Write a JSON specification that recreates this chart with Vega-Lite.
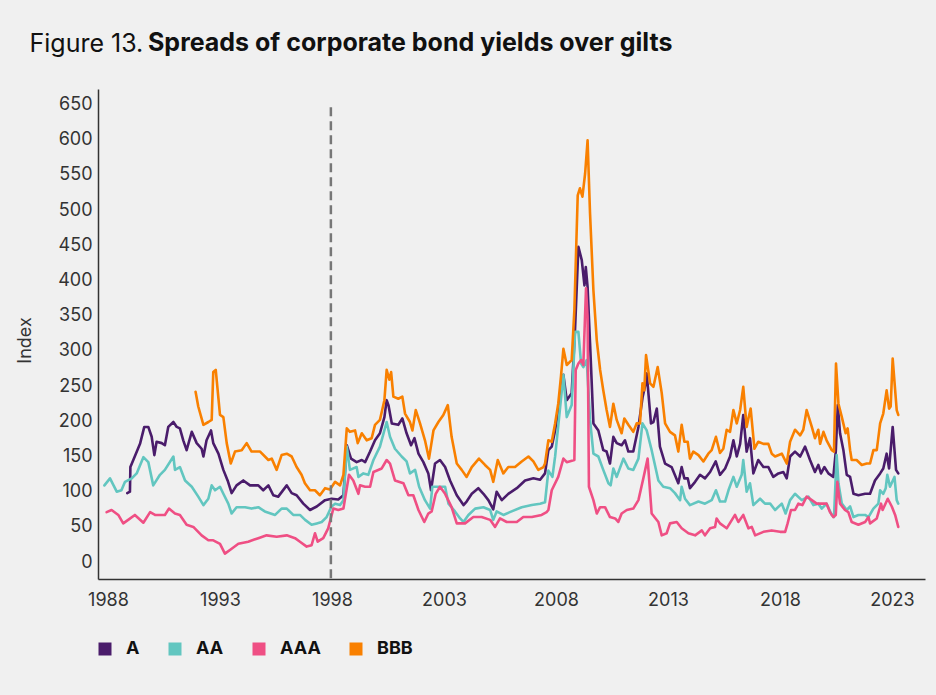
{
  "$schema": "https://vega.github.io/schema/vega-lite/v6.json",
  "width": 827,
  "height": 490,
  "autosize": {"type": "none"},
  "padding": {"left": 98, "top": 89, "right": 11, "bottom": 116},
  "background": "#f0f0f0",
  "config": {"view": {"stroke": null}, "font": "Inter"},
  "title": {
    "text": "Spreads of corporate bond yields over gilts",
    "anchor": "start",
    "frame": "group",
    "font": "Inter",
    "fontSize": 25,
    "fontWeight": "bold",
    "color": "#111111",
    "dx": 50,
    "offset": -25
  },
  "datasets": {
    "series": [
      {"s":"A","t":1988.86,"v":98},{"s":"A","t":1988.98,"v":100},{"s":"A","t":1989.0,"v":135},{"s":"A","t":1989.13,"v":145},{"s":"A","t":1989.43,"v":168},{"s":"A","t":1989.62,"v":192},{"s":"A","t":1989.8,"v":192},{"s":"A","t":1989.95,"v":178},{"s":"A","t":1990.07,"v":152},{"s":"A","t":1990.17,"v":171},{"s":"A","t":1990.4,"v":169},{"s":"A","t":1990.54,"v":166},{"s":"A","t":1990.69,"v":192},{"s":"A","t":1990.92,"v":199},{"s":"A","t":1991.07,"v":192},{"s":"A","t":1991.21,"v":190},{"s":"A","t":1991.36,"v":173},{"s":"A","t":1991.51,"v":159},{"s":"A","t":1991.74,"v":185},{"s":"A","t":1991.96,"v":169},{"s":"A","t":1992.18,"v":161},{"s":"A","t":1992.26,"v":150},{"s":"A","t":1992.4,"v":173},{"s":"A","t":1992.6,"v":187},{"s":"A","t":1992.7,"v":169},{"s":"A","t":1992.93,"v":154},{"s":"A","t":1993.15,"v":131},{"s":"A","t":1993.34,"v":116},{"s":"A","t":1993.52,"v":98},{"s":"A","t":1993.74,"v":109},{"s":"A","t":1994.04,"v":116},{"s":"A","t":1994.34,"v":109},{"s":"A","t":1994.71,"v":109},{"s":"A","t":1994.93,"v":102},{"s":"A","t":1995.16,"v":109},{"s":"A","t":1995.38,"v":95},{"s":"A","t":1995.6,"v":93},{"s":"A","t":1995.98,"v":109},{"s":"A","t":1996.2,"v":98},{"s":"A","t":1996.42,"v":95},{"s":"A","t":1996.72,"v":83},{"s":"A","t":1997.02,"v":74},{"s":"A","t":1997.32,"v":79},{"s":"A","t":1997.69,"v":88},{"s":"A","t":1997.98,"v":90},{"s":"A","t":1998.28,"v":89},{"s":"A","t":1998.51,"v":95},{"s":"A","t":1998.66,"v":166},{"s":"A","t":1998.85,"v":147},{"s":"A","t":1999.1,"v":142},{"s":"A","t":1999.33,"v":145},{"s":"A","t":1999.48,"v":142},{"s":"A","t":1999.7,"v":157},{"s":"A","t":1999.92,"v":173},{"s":"A","t":2000.14,"v":183},{"s":"A","t":2000.34,"v":206},{"s":"A","t":2000.44,"v":230},{"s":"A","t":2000.52,"v":223},{"s":"A","t":2000.67,"v":197},{"s":"A","t":2000.96,"v":195},{"s":"A","t":2001.14,"v":204},{"s":"A","t":2001.33,"v":183},{"s":"A","t":2001.53,"v":166},{"s":"A","t":2001.68,"v":176},{"s":"A","t":2001.86,"v":154},{"s":"A","t":2002.08,"v":142},{"s":"A","t":2002.3,"v":126},{"s":"A","t":2002.42,"v":102},{"s":"A","t":2002.6,"v":140},{"s":"A","t":2002.82,"v":145},{"s":"A","t":2003.05,"v":135},{"s":"A","t":2003.27,"v":116},{"s":"A","t":2003.57,"v":95},{"s":"A","t":2003.87,"v":81},{"s":"A","t":2004.01,"v":86},{"s":"A","t":2004.24,"v":97},{"s":"A","t":2004.53,"v":105},{"s":"A","t":2004.76,"v":97},{"s":"A","t":2004.98,"v":88},{"s":"A","t":2005.2,"v":75},{"s":"A","t":2005.35,"v":100},{"s":"A","t":2005.58,"v":88},{"s":"A","t":2005.87,"v":97},{"s":"A","t":2006.25,"v":105},{"s":"A","t":2006.62,"v":116},{"s":"A","t":2006.99,"v":119},{"s":"A","t":2007.29,"v":117},{"s":"A","t":2007.51,"v":126},{"s":"A","t":2007.66,"v":159},{"s":"A","t":2007.81,"v":164},{"s":"A","t":2007.96,"v":187},{"s":"A","t":2008.1,"v":216},{"s":"A","t":2008.33,"v":266},{"s":"A","t":2008.48,"v":230},{"s":"A","t":2008.7,"v":240},{"s":"A","t":2008.85,"v":330},{"s":"A","t":2009.0,"v":448},{"s":"A","t":2009.15,"v":429},{"s":"A","t":2009.27,"v":393},{"s":"A","t":2009.33,"v":419},{"s":"A","t":2009.41,"v":391},{"s":"A","t":2009.52,"v":311},{"s":"A","t":2009.67,"v":197},{"s":"A","t":2009.89,"v":187},{"s":"A","t":2010.11,"v":159},{"s":"A","t":2010.26,"v":157},{"s":"A","t":2010.41,"v":140},{"s":"A","t":2010.56,"v":178},{"s":"A","t":2010.71,"v":169},{"s":"A","t":2010.93,"v":166},{"s":"A","t":2011.08,"v":173},{"s":"A","t":2011.23,"v":157},{"s":"A","t":2011.45,"v":157},{"s":"A","t":2011.68,"v":192},{"s":"A","t":2011.87,"v":235},{"s":"A","t":2011.97,"v":249},{"s":"A","t":2012.05,"v":268},{"s":"A","t":2012.24,"v":197},{"s":"A","t":2012.35,"v":199},{"s":"A","t":2012.5,"v":218},{"s":"A","t":2012.64,"v":164},{"s":"A","t":2012.87,"v":140},{"s":"A","t":2013.16,"v":135},{"s":"A","t":2013.46,"v":112},{"s":"A","t":2013.61,"v":135},{"s":"A","t":2013.73,"v":119},{"s":"A","t":2013.88,"v":119},{"s":"A","t":2013.98,"v":105},{"s":"A","t":2014.21,"v":114},{"s":"A","t":2014.43,"v":124},{"s":"A","t":2014.65,"v":119},{"s":"A","t":2014.88,"v":128},{"s":"A","t":2015.13,"v":143},{"s":"A","t":2015.32,"v":124},{"s":"A","t":2015.55,"v":133},{"s":"A","t":2015.77,"v":150},{"s":"A","t":2015.92,"v":173},{"s":"A","t":2016.07,"v":150},{"s":"A","t":2016.22,"v":168},{"s":"A","t":2016.36,"v":209},{"s":"A","t":2016.51,"v":157},{"s":"A","t":2016.66,"v":176},{"s":"A","t":2016.81,"v":126},{"s":"A","t":2017.03,"v":145},{"s":"A","t":2017.26,"v":135},{"s":"A","t":2017.48,"v":135},{"s":"A","t":2017.7,"v":121},{"s":"A","t":2017.93,"v":126},{"s":"A","t":2018.15,"v":128},{"s":"A","t":2018.3,"v":119},{"s":"A","t":2018.45,"v":150},{"s":"A","t":2018.67,"v":157},{"s":"A","t":2018.9,"v":150},{"s":"A","t":2019.12,"v":164},{"s":"A","t":2019.34,"v":145},{"s":"A","t":2019.56,"v":128},{"s":"A","t":2019.71,"v":138},{"s":"A","t":2019.83,"v":126},{"s":"A","t":2019.98,"v":135},{"s":"A","t":2020.16,"v":126},{"s":"A","t":2020.38,"v":121},{"s":"A","t":2020.49,"v":157},{"s":"A","t":2020.58,"v":223},{"s":"A","t":2020.68,"v":183},{"s":"A","t":2020.83,"v":159},{"s":"A","t":2020.98,"v":124},{"s":"A","t":2021.13,"v":121},{"s":"A","t":2021.28,"v":97},{"s":"A","t":2021.5,"v":95},{"s":"A","t":2021.8,"v":97},{"s":"A","t":2022.02,"v":97},{"s":"A","t":2022.24,"v":116},{"s":"A","t":2022.47,"v":126},{"s":"A","t":2022.61,"v":133},{"s":"A","t":2022.76,"v":154},{"s":"A","t":2022.87,"v":133},{"s":"A","t":2023.03,"v":192},{"s":"A","t":2023.18,"v":131},{"s":"A","t":2023.28,"v":126},
      {"s":"AA","t":1987.84,"v":109},{"s":"AA","t":1988.09,"v":119},{"s":"AA","t":1988.39,"v":100},{"s":"AA","t":1988.6,"v":102},{"s":"AA","t":1988.76,"v":114},{"s":"AA","t":1989.06,"v":119},{"s":"AA","t":1989.28,"v":126},{"s":"AA","t":1989.58,"v":149},{"s":"AA","t":1989.8,"v":142},{"s":"AA","t":1990.02,"v":109},{"s":"AA","t":1990.32,"v":124},{"s":"AA","t":1990.54,"v":131},{"s":"AA","t":1990.92,"v":150},{"s":"AA","t":1990.99,"v":131},{"s":"AA","t":1991.21,"v":135},{"s":"AA","t":1991.44,"v":116},{"s":"AA","t":1991.74,"v":107},{"s":"AA","t":1992.03,"v":93},{"s":"AA","t":1992.26,"v":81},{"s":"AA","t":1992.48,"v":90},{"s":"AA","t":1992.63,"v":109},{"s":"AA","t":1992.78,"v":102},{"s":"AA","t":1993.0,"v":107},{"s":"AA","t":1993.15,"v":97},{"s":"AA","t":1993.37,"v":83},{"s":"AA","t":1993.52,"v":69},{"s":"AA","t":1993.74,"v":78},{"s":"AA","t":1994.12,"v":78},{"s":"AA","t":1994.41,"v":76},{"s":"AA","t":1994.71,"v":78},{"s":"AA","t":1995.0,"v":72},{"s":"AA","t":1995.46,"v":67},{"s":"AA","t":1995.75,"v":76},{"s":"AA","t":1995.98,"v":76},{"s":"AA","t":1996.27,"v":67},{"s":"AA","t":1996.57,"v":67},{"s":"AA","t":1996.8,"v":60},{"s":"AA","t":1997.09,"v":53},{"s":"AA","t":1997.32,"v":55},{"s":"AA","t":1997.54,"v":57},{"s":"AA","t":1997.76,"v":64},{"s":"AA","t":1997.98,"v":79},{"s":"AA","t":1998.14,"v":83},{"s":"AA","t":1998.36,"v":81},{"s":"AA","t":1998.51,"v":88},{"s":"AA","t":1998.66,"v":164},{"s":"AA","t":1998.8,"v":131},{"s":"AA","t":1999.1,"v":135},{"s":"AA","t":1999.18,"v":121},{"s":"AA","t":1999.4,"v":126},{"s":"AA","t":1999.62,"v":124},{"s":"AA","t":1999.85,"v":145},{"s":"AA","t":2000.14,"v":164},{"s":"AA","t":2000.44,"v":199},{"s":"AA","t":2000.59,"v":178},{"s":"AA","t":2000.81,"v":161},{"s":"AA","t":2001.11,"v":150},{"s":"AA","t":2001.33,"v":143},{"s":"AA","t":2001.48,"v":126},{"s":"AA","t":2001.71,"v":131},{"s":"AA","t":2001.89,"v":107},{"s":"AA","t":2002.15,"v":88},{"s":"AA","t":2002.38,"v":76},{"s":"AA","t":2002.48,"v":107},{"s":"AA","t":2002.75,"v":107},{"s":"AA","t":2003.05,"v":107},{"s":"AA","t":2003.2,"v":83},{"s":"AA","t":2003.49,"v":72},{"s":"AA","t":2003.72,"v":62},{"s":"AA","t":2003.87,"v":57},{"s":"AA","t":2004.09,"v":67},{"s":"AA","t":2004.39,"v":76},{"s":"AA","t":2004.76,"v":78},{"s":"AA","t":2005.06,"v":74},{"s":"AA","t":2005.2,"v":60},{"s":"AA","t":2005.35,"v":72},{"s":"AA","t":2005.65,"v":67},{"s":"AA","t":2006.02,"v":72},{"s":"AA","t":2006.47,"v":78},{"s":"AA","t":2006.92,"v":81},{"s":"AA","t":2007.29,"v":83},{"s":"AA","t":2007.51,"v":85},{"s":"AA","t":2007.66,"v":130},{"s":"AA","t":2007.84,"v":121},{"s":"AA","t":2007.96,"v":150},{"s":"AA","t":2008.14,"v":206},{"s":"AA","t":2008.33,"v":266},{"s":"AA","t":2008.48,"v":206},{"s":"AA","t":2008.7,"v":223},{"s":"AA","t":2008.85,"v":327},{"s":"AA","t":2009.0,"v":327},{"s":"AA","t":2009.12,"v":282},{"s":"AA","t":2009.22,"v":277},{"s":"AA","t":2009.37,"v":287},{"s":"AA","t":2009.52,"v":202},{"s":"AA","t":2009.67,"v":154},{"s":"AA","t":2009.89,"v":150},{"s":"AA","t":2010.11,"v":131},{"s":"AA","t":2010.34,"v":112},{"s":"AA","t":2010.44,"v":109},{"s":"AA","t":2010.56,"v":133},{"s":"AA","t":2010.71,"v":121},{"s":"AA","t":2011.01,"v":147},{"s":"AA","t":2011.23,"v":133},{"s":"AA","t":2011.45,"v":131},{"s":"AA","t":2011.68,"v":147},{"s":"AA","t":2011.86,"v":197},{"s":"AA","t":2012.05,"v":187},{"s":"AA","t":2012.27,"v":159},{"s":"AA","t":2012.57,"v":116},{"s":"AA","t":2012.79,"v":107},{"s":"AA","t":2013.09,"v":105},{"s":"AA","t":2013.31,"v":98},{"s":"AA","t":2013.54,"v":88},{"s":"AA","t":2013.61,"v":107},{"s":"AA","t":2013.76,"v":90},{"s":"AA","t":2013.98,"v":81},{"s":"AA","t":2014.36,"v":86},{"s":"AA","t":2014.65,"v":83},{"s":"AA","t":2014.95,"v":88},{"s":"AA","t":2015.14,"v":102},{"s":"AA","t":2015.32,"v":86},{"s":"AA","t":2015.55,"v":86},{"s":"AA","t":2015.7,"v":102},{"s":"AA","t":2015.92,"v":121},{"s":"AA","t":2016.07,"v":107},{"s":"AA","t":2016.29,"v":124},{"s":"AA","t":2016.36,"v":145},{"s":"AA","t":2016.51,"v":100},{"s":"AA","t":2016.66,"v":112},{"s":"AA","t":2016.81,"v":81},{"s":"AA","t":2017.11,"v":90},{"s":"AA","t":2017.33,"v":83},{"s":"AA","t":2017.56,"v":83},{"s":"AA","t":2017.78,"v":74},{"s":"AA","t":2018.08,"v":83},{"s":"AA","t":2018.25,"v":69},{"s":"AA","t":2018.45,"v":88},{"s":"AA","t":2018.67,"v":97},{"s":"AA","t":2018.97,"v":88},{"s":"AA","t":2019.27,"v":93},{"s":"AA","t":2019.49,"v":81},{"s":"AA","t":2019.71,"v":83},{"s":"AA","t":2019.86,"v":76},{"s":"AA","t":2020.08,"v":83},{"s":"AA","t":2020.31,"v":67},{"s":"AA","t":2020.41,"v":64},{"s":"AA","t":2020.53,"v":152},{"s":"AA","t":2020.61,"v":112},{"s":"AA","t":2020.76,"v":83},{"s":"AA","t":2020.98,"v":74},{"s":"AA","t":2021.13,"v":79},{"s":"AA","t":2021.28,"v":64},{"s":"AA","t":2021.5,"v":67},{"s":"AA","t":2021.8,"v":67},{"s":"AA","t":2021.95,"v":64},{"s":"AA","t":2022.17,"v":76},{"s":"AA","t":2022.39,"v":83},{"s":"AA","t":2022.47,"v":102},{"s":"AA","t":2022.61,"v":97},{"s":"AA","t":2022.72,"v":105},{"s":"AA","t":2022.79,"v":124},{"s":"AA","t":2022.91,"v":107},{"s":"AA","t":2023.11,"v":121},{"s":"AA","t":2023.21,"v":88},{"s":"AA","t":2023.28,"v":83},
      {"s":"AAA","t":1987.94,"v":71},{"s":"AAA","t":1988.16,"v":74},{"s":"AAA","t":1988.46,"v":67},{"s":"AAA","t":1988.68,"v":55},{"s":"AAA","t":1988.9,"v":60},{"s":"AAA","t":1989.2,"v":67},{"s":"AAA","t":1989.58,"v":56},{"s":"AAA","t":1989.88,"v":71},{"s":"AAA","t":1990.1,"v":67},{"s":"AAA","t":1990.54,"v":67},{"s":"AAA","t":1990.72,"v":76},{"s":"AAA","t":1990.99,"v":69},{"s":"AAA","t":1991.21,"v":67},{"s":"AAA","t":1991.51,"v":53},{"s":"AAA","t":1991.81,"v":50},{"s":"AAA","t":1992.18,"v":38},{"s":"AAA","t":1992.48,"v":31},{"s":"AAA","t":1992.7,"v":31},{"s":"AAA","t":1993.0,"v":26},{"s":"AAA","t":1993.22,"v":12},{"s":"AAA","t":1993.52,"v":19},{"s":"AAA","t":1993.82,"v":26},{"s":"AAA","t":1994.26,"v":29},{"s":"AAA","t":1994.71,"v":34},{"s":"AAA","t":1995.08,"v":38},{"s":"AAA","t":1995.53,"v":36},{"s":"AAA","t":1995.98,"v":38},{"s":"AAA","t":1996.35,"v":34},{"s":"AAA","t":1996.57,"v":29},{"s":"AAA","t":1996.87,"v":22},{"s":"AAA","t":1997.09,"v":24},{"s":"AAA","t":1997.24,"v":41},{"s":"AAA","t":1997.36,"v":29},{"s":"AAA","t":1997.61,"v":34},{"s":"AAA","t":1997.83,"v":48},{"s":"AAA","t":1998.06,"v":76},{"s":"AAA","t":1998.28,"v":74},{"s":"AAA","t":1998.51,"v":76},{"s":"AAA","t":1998.76,"v":124},{"s":"AAA","t":1998.95,"v":116},{"s":"AAA","t":1999.18,"v":97},{"s":"AAA","t":1999.25,"v":109},{"s":"AAA","t":1999.48,"v":107},{"s":"AAA","t":1999.7,"v":107},{"s":"AAA","t":1999.85,"v":128},{"s":"AAA","t":2000.22,"v":133},{"s":"AAA","t":2000.44,"v":145},{"s":"AAA","t":2000.59,"v":140},{"s":"AAA","t":2000.81,"v":116},{"s":"AAA","t":2001.19,"v":112},{"s":"AAA","t":2001.41,"v":95},{"s":"AAA","t":2001.63,"v":95},{"s":"AAA","t":2001.86,"v":74},{"s":"AAA","t":2002.12,"v":57},{"s":"AAA","t":2002.3,"v":69},{"s":"AAA","t":2002.45,"v":72},{"s":"AAA","t":2002.63,"v":97},{"s":"AAA","t":2002.82,"v":107},{"s":"AAA","t":2003.05,"v":97},{"s":"AAA","t":2003.34,"v":78},{"s":"AAA","t":2003.57,"v":55},{"s":"AAA","t":2003.94,"v":55},{"s":"AAA","t":2004.31,"v":64},{"s":"AAA","t":2004.68,"v":64},{"s":"AAA","t":2005.06,"v":60},{"s":"AAA","t":2005.28,"v":50},{"s":"AAA","t":2005.5,"v":62},{"s":"AAA","t":2005.8,"v":57},{"s":"AAA","t":2006.25,"v":57},{"s":"AAA","t":2006.54,"v":64},{"s":"AAA","t":2006.92,"v":64},{"s":"AAA","t":2007.36,"v":67},{"s":"AAA","t":2007.58,"v":71},{"s":"AAA","t":2007.66,"v":74},{"s":"AAA","t":2007.81,"v":102},{"s":"AAA","t":2008.1,"v":121},{"s":"AAA","t":2008.33,"v":147},{"s":"AAA","t":2008.48,"v":142},{"s":"AAA","t":2008.82,"v":145},{"s":"AAA","t":2008.88,"v":273},{"s":"AAA","t":2009.0,"v":282},{"s":"AAA","t":2009.12,"v":287},{"s":"AAA","t":2009.22,"v":280},{"s":"AAA","t":2009.34,"v":389},{"s":"AAA","t":2009.41,"v":348},{"s":"AAA","t":2009.47,"v":107},{"s":"AAA","t":2009.67,"v":88},{"s":"AAA","t":2009.82,"v":69},{"s":"AAA","t":2009.97,"v":78},{"s":"AAA","t":2010.19,"v":78},{"s":"AAA","t":2010.41,"v":64},{"s":"AAA","t":2010.64,"v":62},{"s":"AAA","t":2010.78,"v":57},{"s":"AAA","t":2010.93,"v":69},{"s":"AAA","t":2011.16,"v":74},{"s":"AAA","t":2011.45,"v":76},{"s":"AAA","t":2011.68,"v":88},{"s":"AAA","t":2011.9,"v":119},{"s":"AAA","t":2012.09,"v":147},{"s":"AAA","t":2012.27,"v":69},{"s":"AAA","t":2012.57,"v":57},{"s":"AAA","t":2012.72,"v":38},{"s":"AAA","t":2012.94,"v":41},{"s":"AAA","t":2013.09,"v":55},{"s":"AAA","t":2013.39,"v":57},{"s":"AAA","t":2013.61,"v":48},{"s":"AAA","t":2013.91,"v":41},{"s":"AAA","t":2014.21,"v":38},{"s":"AAA","t":2014.51,"v":45},{"s":"AAA","t":2014.65,"v":38},{"s":"AAA","t":2014.88,"v":48},{"s":"AAA","t":2015.1,"v":50},{"s":"AAA","t":2015.17,"v":62},{"s":"AAA","t":2015.32,"v":55},{"s":"AAA","t":2015.62,"v":48},{"s":"AAA","t":2015.99,"v":67},{"s":"AAA","t":2016.14,"v":57},{"s":"AAA","t":2016.36,"v":67},{"s":"AAA","t":2016.59,"v":48},{"s":"AAA","t":2016.74,"v":50},{"s":"AAA","t":2016.89,"v":38},{"s":"AAA","t":2017.26,"v":43},{"s":"AAA","t":2017.63,"v":45},{"s":"AAA","t":2018.0,"v":43},{"s":"AAA","t":2018.23,"v":43},{"s":"AAA","t":2018.34,"v":55},{"s":"AAA","t":2018.49,"v":74},{"s":"AAA","t":2018.67,"v":74},{"s":"AAA","t":2018.82,"v":83},{"s":"AAA","t":2019.0,"v":81},{"s":"AAA","t":2019.19,"v":93},{"s":"AAA","t":2019.42,"v":88},{"s":"AAA","t":2019.64,"v":83},{"s":"AAA","t":2019.86,"v":83},{"s":"AAA","t":2020.08,"v":83},{"s":"AAA","t":2020.23,"v":71},{"s":"AAA","t":2020.38,"v":64},{"s":"AAA","t":2020.49,"v":67},{"s":"AAA","t":2020.56,"v":114},{"s":"AAA","t":2020.68,"v":83},{"s":"AAA","t":2020.9,"v":74},{"s":"AAA","t":2021.05,"v":71},{"s":"AAA","t":2021.2,"v":57},{"s":"AAA","t":2021.5,"v":53},{"s":"AAA","t":2021.8,"v":57},{"s":"AAA","t":2021.95,"v":64},{"s":"AAA","t":2022.02,"v":55},{"s":"AAA","t":2022.32,"v":62},{"s":"AAA","t":2022.51,"v":83},{"s":"AAA","t":2022.58,"v":74},{"s":"AAA","t":2022.81,"v":90},{"s":"AAA","t":2022.99,"v":79},{"s":"AAA","t":2023.14,"v":67},{"s":"AAA","t":2023.28,"v":50},
      {"s":"BBB","t":1991.91,"v":242},{"s":"BBB","t":1992.03,"v":221},{"s":"BBB","t":1992.26,"v":195},{"s":"BBB","t":1992.48,"v":199},{"s":"BBB","t":1992.63,"v":202},{"s":"BBB","t":1992.7,"v":270},{"s":"BBB","t":1992.81,"v":273},{"s":"BBB","t":1993.0,"v":209},{"s":"BBB","t":1993.15,"v":206},{"s":"BBB","t":1993.3,"v":169},{"s":"BBB","t":1993.48,"v":140},{"s":"BBB","t":1993.67,"v":157},{"s":"BBB","t":1993.97,"v":159},{"s":"BBB","t":1994.19,"v":169},{"s":"BBB","t":1994.41,"v":157},{"s":"BBB","t":1994.79,"v":157},{"s":"BBB","t":1995.16,"v":145},{"s":"BBB","t":1995.31,"v":147},{"s":"BBB","t":1995.53,"v":131},{"s":"BBB","t":1995.75,"v":152},{"s":"BBB","t":1995.98,"v":154},{"s":"BBB","t":1996.2,"v":150},{"s":"BBB","t":1996.42,"v":135},{"s":"BBB","t":1996.64,"v":124},{"s":"BBB","t":1996.79,"v":112},{"s":"BBB","t":1997.02,"v":102},{"s":"BBB","t":1997.24,"v":102},{"s":"BBB","t":1997.46,"v":95},{"s":"BBB","t":1997.69,"v":105},{"s":"BBB","t":1997.91,"v":103},{"s":"BBB","t":1998.14,"v":114},{"s":"BBB","t":1998.36,"v":109},{"s":"BBB","t":1998.51,"v":124},{"s":"BBB","t":1998.66,"v":190},{"s":"BBB","t":1998.8,"v":185},{"s":"BBB","t":1999.03,"v":187},{"s":"BBB","t":1999.15,"v":169},{"s":"BBB","t":1999.33,"v":183},{"s":"BBB","t":1999.55,"v":173},{"s":"BBB","t":1999.77,"v":176},{"s":"BBB","t":1999.92,"v":195},{"s":"BBB","t":2000.14,"v":202},{"s":"BBB","t":2000.34,"v":230},{"s":"BBB","t":2000.44,"v":273},{"s":"BBB","t":2000.56,"v":259},{"s":"BBB","t":2000.64,"v":270},{"s":"BBB","t":2000.74,"v":235},{"s":"BBB","t":2000.96,"v":232},{"s":"BBB","t":2001.14,"v":235},{"s":"BBB","t":2001.26,"v":211},{"s":"BBB","t":2001.48,"v":199},{"s":"BBB","t":2001.59,"v":187},{"s":"BBB","t":2001.74,"v":216},{"s":"BBB","t":2001.93,"v":197},{"s":"BBB","t":2002.15,"v":173},{"s":"BBB","t":2002.33,"v":147},{"s":"BBB","t":2002.53,"v":187},{"s":"BBB","t":2002.75,"v":199},{"s":"BBB","t":2002.97,"v":209},{"s":"BBB","t":2003.17,"v":223},{"s":"BBB","t":2003.34,"v":178},{"s":"BBB","t":2003.57,"v":140},{"s":"BBB","t":2003.79,"v":131},{"s":"BBB","t":2004.01,"v":121},{"s":"BBB","t":2004.24,"v":135},{"s":"BBB","t":2004.56,"v":147},{"s":"BBB","t":2004.83,"v":138},{"s":"BBB","t":2005.06,"v":131},{"s":"BBB","t":2005.2,"v":114},{"s":"BBB","t":2005.4,"v":145},{"s":"BBB","t":2005.65,"v":126},{"s":"BBB","t":2005.87,"v":135},{"s":"BBB","t":2006.17,"v":135},{"s":"BBB","t":2006.47,"v":143},{"s":"BBB","t":2006.77,"v":150},{"s":"BBB","t":2006.99,"v":143},{"s":"BBB","t":2007.21,"v":131},{"s":"BBB","t":2007.44,"v":135},{"s":"BBB","t":2007.51,"v":140},{"s":"BBB","t":2007.66,"v":173},{"s":"BBB","t":2007.81,"v":171},{"s":"BBB","t":2007.96,"v":197},{"s":"BBB","t":2008.1,"v":225},{"s":"BBB","t":2008.22,"v":263},{"s":"BBB","t":2008.33,"v":303},{"s":"BBB","t":2008.48,"v":280},{"s":"BBB","t":2008.7,"v":287},{"s":"BBB","t":2008.82,"v":358},{"s":"BBB","t":2008.97,"v":521},{"s":"BBB","t":2009.07,"v":531},{"s":"BBB","t":2009.18,"v":519},{"s":"BBB","t":2009.3,"v":552},{"s":"BBB","t":2009.41,"v":599},{"s":"BBB","t":2009.52,"v":495},{"s":"BBB","t":2009.67,"v":386},{"s":"BBB","t":2009.82,"v":315},{"s":"BBB","t":2009.97,"v":273},{"s":"BBB","t":2010.11,"v":244},{"s":"BBB","t":2010.26,"v":216},{"s":"BBB","t":2010.41,"v":192},{"s":"BBB","t":2010.56,"v":225},{"s":"BBB","t":2010.71,"v":202},{"s":"BBB","t":2010.93,"v":183},{"s":"BBB","t":2011.05,"v":204},{"s":"BBB","t":2011.23,"v":195},{"s":"BBB","t":2011.45,"v":185},{"s":"BBB","t":2011.6,"v":197},{"s":"BBB","t":2011.75,"v":197},{"s":"BBB","t":2011.86,"v":254},{"s":"BBB","t":2011.94,"v":244},{"s":"BBB","t":2012.02,"v":294},{"s":"BBB","t":2012.2,"v":254},{"s":"BBB","t":2012.35,"v":249},{"s":"BBB","t":2012.54,"v":277},{"s":"BBB","t":2012.72,"v":240},{"s":"BBB","t":2012.87,"v":197},{"s":"BBB","t":2013.09,"v":185},{"s":"BBB","t":2013.31,"v":180},{"s":"BBB","t":2013.46,"v":157},{"s":"BBB","t":2013.61,"v":195},{"s":"BBB","t":2013.73,"v":171},{"s":"BBB","t":2013.88,"v":171},{"s":"BBB","t":2013.98,"v":147},{"s":"BBB","t":2014.13,"v":157},{"s":"BBB","t":2014.36,"v":152},{"s":"BBB","t":2014.58,"v":143},{"s":"BBB","t":2014.8,"v":154},{"s":"BBB","t":2014.95,"v":159},{"s":"BBB","t":2015.14,"v":178},{"s":"BBB","t":2015.32,"v":155},{"s":"BBB","t":2015.47,"v":161},{"s":"BBB","t":2015.62,"v":188},{"s":"BBB","t":2015.77,"v":185},{"s":"BBB","t":2015.92,"v":216},{"s":"BBB","t":2016.07,"v":197},{"s":"BBB","t":2016.22,"v":216},{"s":"BBB","t":2016.36,"v":249},{"s":"BBB","t":2016.51,"v":192},{"s":"BBB","t":2016.59,"v":204},{"s":"BBB","t":2016.69,"v":218},{"s":"BBB","t":2016.86,"v":161},{"s":"BBB","t":2017.03,"v":171},{"s":"BBB","t":2017.26,"v":168},{"s":"BBB","t":2017.48,"v":168},{"s":"BBB","t":2017.63,"v":154},{"s":"BBB","t":2017.78,"v":150},{"s":"BBB","t":2018.08,"v":154},{"s":"BBB","t":2018.3,"v":140},{"s":"BBB","t":2018.45,"v":171},{"s":"BBB","t":2018.67,"v":188},{"s":"BBB","t":2018.9,"v":180},{"s":"BBB","t":2019.04,"v":188},{"s":"BBB","t":2019.19,"v":216},{"s":"BBB","t":2019.42,"v":192},{"s":"BBB","t":2019.56,"v":176},{"s":"BBB","t":2019.71,"v":188},{"s":"BBB","t":2019.79,"v":168},{"s":"BBB","t":2019.94,"v":185},{"s":"BBB","t":2020.08,"v":173},{"s":"BBB","t":2020.31,"v":159},{"s":"BBB","t":2020.41,"v":157},{"s":"BBB","t":2020.5,"v":282},{"s":"BBB","t":2020.61,"v":225},{"s":"BBB","t":2020.76,"v":206},{"s":"BBB","t":2020.93,"v":183},{"s":"BBB","t":2021.02,"v":190},{"s":"BBB","t":2021.13,"v":159},{"s":"BBB","t":2021.2,"v":145},{"s":"BBB","t":2021.42,"v":145},{"s":"BBB","t":2021.65,"v":138},{"s":"BBB","t":2021.87,"v":140},{"s":"BBB","t":2022.02,"v":140},{"s":"BBB","t":2022.17,"v":159},{"s":"BBB","t":2022.32,"v":159},{"s":"BBB","t":2022.47,"v":197},{"s":"BBB","t":2022.61,"v":211},{"s":"BBB","t":2022.76,"v":244},{"s":"BBB","t":2022.87,"v":218},{"s":"BBB","t":2022.94,"v":221},{"s":"BBB","t":2023.03,"v":289},{"s":"BBB","t":2023.21,"v":216},{"s":"BBB","t":2023.28,"v":209}
    ],
    "marker": [{"t": 1997.95}]
  },
  "layer": [
    {
      "data": {"name": "series"},
      "mark": {"type": "line", "strokeWidth": 2.6, "strokeJoin": "round", "strokeCap": "round"},
      "encoding": {
        "x": {
          "field": "t", "type": "quantitative",
          "scale": {"domain": [1987.554, 2024.473], "nice": false, "zero": false},
          "axis": {
            "title": "Figure 13.", "titleFont": "Inter", "titleFontSize": 25, "titleFontWeight": "normal", "titleColor": "#111111",
            "titleX": -69, "titleY": -528, "titleAlign": "left", "titleBaseline": "alphabetic", "titleAngle": 0,
            "values": [1988, 1993, 1998, 2003, 2008, 2013, 2018, 2023], "format": "d",
            "labelFont": "Inter", "labelFontSize": 18, "labelColor": "#333333", "labelPadding": 12, "labelOverlap": false,
            "ticks": false, "tickSize": 0, "grid": false,
            "domain": true, "domainColor": "#333333", "domainWidth": 1.5
          }
        },
        "y": {
          "field": "v", "type": "quantitative",
          "scale": {"domain": [-24, 672], "nice": false, "zero": false},
          "axis": {
            "title": "Index", "titleFont": "Inter", "titleFontSize": 18, "titleFontWeight": "normal", "titleColor": "#333333",
            "titleAngle": -90, "titleX": -73, "titleY": 251, "titleAlign": "center", "titleBaseline": "middle",
            "values": [0, 50, 100, 150, 200, 250, 300, 350, 400, 450, 500, 550, 600, 650],
            "labelFont": "Inter", "labelFontSize": 18, "labelColor": "#333333", "labelPadding": 6, "labelOverlap": false,
            "ticks": false, "tickSize": 0, "grid": false,
            "domain": true, "domainColor": "#333333", "domainWidth": 1.5
          }
        },
        "color": {
          "field": "s", "type": "nominal",
          "scale": {"domain": ["A", "AA", "AAA", "BBB"], "range": ["#4a1c6b", "#62c6c0", "#ef4f84", "#f98000"]},
          "legend": {
            "title": null, "orient": "none", "legendX": -2, "legendY": 551, "direction": "horizontal",
            "symbolType": "square", "symbolSize": 169, "symbolStrokeWidth": 0,
            "labelFont": "Inter", "labelFontSize": 18, "labelFontWeight": "bold", "labelColor": "#111111",
            "labelOffset": 12, "columnPadding": 26,
            "encode": {"symbols": {"update": {"fill": {"scale": "color", "field": "value"}, "stroke": {"value": "transparent"}, "opacity": {"value": 1}}}}
          }
        }
      }
    },
    {
      "data": {"name": "marker"},
      "mark": {"type": "rule", "color": "#777777", "strokeWidth": 2.5, "strokeDash": [9, 5]},
      "encoding": {
        "x": {
          "field": "t", "type": "quantitative",
          "axis": {
            "title": "Figure 13.", "titleFont": "Inter", "titleFontSize": 25, "titleFontWeight": "normal", "titleColor": "#111111",
            "titleX": -69, "titleY": -528, "titleAlign": "left", "titleBaseline": "alphabetic", "titleAngle": 0,
            "values": [1988, 1993, 1998, 2003, 2008, 2013, 2018, 2023], "format": "d",
            "labelFont": "Inter", "labelFontSize": 18, "labelColor": "#333333", "labelPadding": 12, "labelOverlap": false,
            "ticks": false, "tickSize": 0, "grid": false,
            "domain": true, "domainColor": "#333333", "domainWidth": 1.5
          }
        },
        "y": {
          "datum": 646, "type": "quantitative",
          "axis": {
            "title": "Index", "titleFont": "Inter", "titleFontSize": 18, "titleFontWeight": "normal", "titleColor": "#333333",
            "titleAngle": -90, "titleX": -73, "titleY": 251, "titleAlign": "center", "titleBaseline": "middle",
            "values": [0, 50, 100, 150, 200, 250, 300, 350, 400, 450, 500, 550, 600, 650],
            "labelFont": "Inter", "labelFontSize": 18, "labelColor": "#333333", "labelPadding": 6, "labelOverlap": false,
            "ticks": false, "tickSize": 0, "grid": false,
            "domain": true, "domainColor": "#333333", "domainWidth": 1.5
          }
        },
        "y2": {"datum": -24}
      }
    }
  ]
}
